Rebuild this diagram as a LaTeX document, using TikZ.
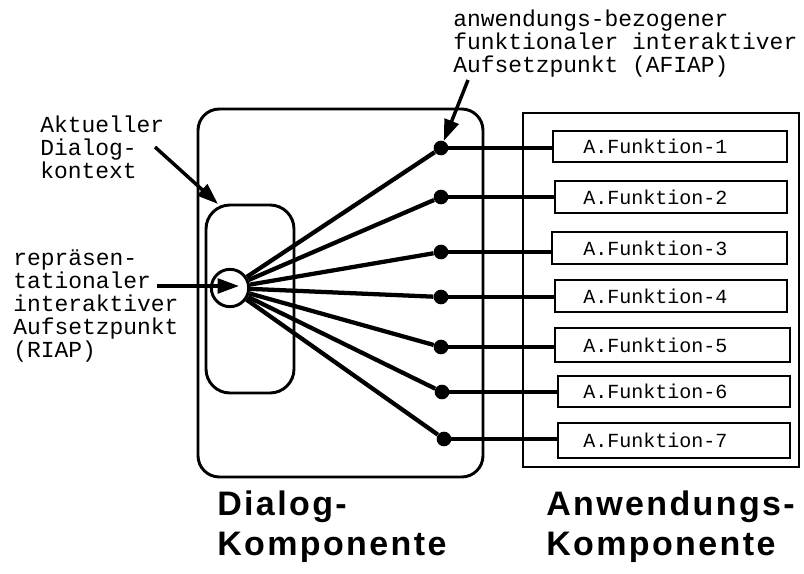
\documentclass[tikz,border=0pt]{standalone}
\usepackage{fontspec}
\setmainfont{Liberation Sans}
\newfontfamily\monof{Liberation Mono}
\newfontfamily\boldsans{Liberation Sans}[LetterSpace=7]
\usetikzlibrary{arrows.meta,fit}
\begin{document}
\begin{tikzpicture}[x=0.75pt,y=-0.75pt,
  box/.style={draw, line width=2.2pt, inner sep=0pt},
  spoke/.style={line width=3.2pt},
  conn/.style={line width=2.4pt},
  dot/.style={circle, fill=black, minimum size=11pt, inner sep=0pt},
  callout/.style={line width=2.6pt, -{Triangle[length=16pt,width=11pt]}},
  lbl/.style={font=\monof\fontsize{17.2}{17.4}\selectfont, align=left, inner sep=0pt},
  ftxt/.style={font=\monof\fontsize{15}{15}\selectfont, inner sep=0pt},
  big/.style={font=\boldsans\bfseries\fontsize{25.5}{30}\selectfont, align=left, inner sep=0pt}
]
\useasboundingbox (0,0) rectangle (804,574);

% Dialog component
\node[box, rounded corners=16pt, fit={(198,109) (483,477)}] (dlg) {};
\node[box, rounded corners=18pt, fit={(206,205) (294,393)}] (ctx) {};

% application component
\node[box, fit={(523,113) (799,467)}] (app) {};
\node[box, fit={(553,131) (787,162)}] (f1) {};
\node[box, fit={(555,181) (787,213)}] (f2) {};
\node[box, fit={(552,232) (787,264)}] (f3) {};
\node[box, fit={(555,280) (787,312)}] (f4) {};
\node[box, fit={(555,328) (790,362)}] (f5) {};
\node[box, fit={(558,376) (790,407)}] (f6) {};
\node[box, fit={(558,423) (790,458)}] (f7) {};
\node[ftxt, anchor=west] (t1) at (583,146.5) {A.Funktion-1};
\node[ftxt, anchor=west] (t2) at (583,197) {A.Funktion-2};
\node[ftxt, anchor=west] (t3) at (583,248) {A.Funktion-3};
\node[ftxt, anchor=west] (t4) at (583,296) {A.Funktion-4};
\node[ftxt, anchor=west] (t5) at (583,345) {A.Funktion-5};
\node[ftxt, anchor=west] (t6) at (583,391.5) {A.Funktion-6};
\node[ftxt, anchor=west] (t7) at (583,440.5) {A.Funktion-7};

% dots
\node[dot] (d1) at (441,148) {};
\node[dot] (d2) at (441,197) {};
\node[dot] (d3) at (441,252) {};
\node[dot] (d4) at (441,297) {};
\node[dot] (d5) at (441,347) {};
\node[dot] (d6) at (442,392) {};
\node[dot] (d7) at (444,439) {};

% RIAP circle
\node[draw, circle, line width=2.2pt, minimum size=28pt, inner sep=0pt, fill=white] (riap) at (230,288) {};

% spokes
\foreach \i in {1,...,7} {
  \draw[spoke] (riap) -- (d\i);
  \draw[conn] (d\i.center) -- (d\i -| f\i.west);
}

% labels (base anchor = baseline of last line)
\node[lbl, anchor=base west] (afiap) at (453,73) {anwendungs-bezogener\\funktionaler interaktiver\\Aufsetzpunkt (AFIAP)};
\node[lbl, anchor=base west] (akt) at (40,179) {Aktueller\\Dialog-\\kontext};
\node[lbl, anchor=base west] (rlab) at (13,358) {repräsen-\\tationaler\\interaktiver\\Aufsetzpunkt\\(RIAP)};

\coordinate (a1) at (468,80);
\coordinate (k1) at (155,147);
\coordinate (k2) at (218,204);
\coordinate (r1) at (157,286);
\coordinate (r2) at (239,286);
\draw[callout] (a1) -- (d1);
\draw[callout] (k1) -- (k2);
\draw[callout] (r1) -- (r2);

% bottom titles
\node[big, anchor=base west] (dk) at (217,555) {Dialog-\\Komponente};
\node[big, anchor=base west] (ak) at (546,555) {Anwendungs-\\Komponente};
\end{tikzpicture}
\end{document}
